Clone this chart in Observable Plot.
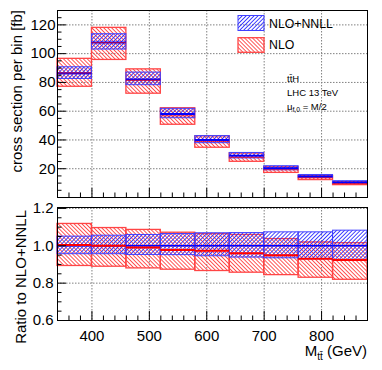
<!DOCTYPE html>
<html><head><meta charset="utf-8">
<script src="https://cdn.jsdelivr.net/npm/d3@7"></script>
<script src="https://cdn.jsdelivr.net/npm/@observablehq/plot@0.6"></script>
<style>
html,body{margin:0;padding:0;background:#fff;}
#chart{position:relative;width:382px;height:370px;overflow:hidden;}
#chart svg{display:block;}
</style></head><body><div id="chart"></div>
<script>
// ---- data ----
const binLow  = [340, 400, 460, 520, 580, 640, 700, 760, 820];
const binHigh = [400, 460, 520, 580, 640, 700, 760, 820, 880];
// NLO+NNLL central cross section per bin [fb]
const nnllCentral = [86.3, 107.7, 82.1, 58.0, 40.0, 29.0, 20.3, 14.6, 10.5];
// NLO+NNLL scale band, relative to NLO+NNLL central
const nnllRatioLo = [0.955, 0.955, 0.951, 0.950, 0.944, 0.937, 0.933, 0.928, 0.923];
const nnllRatioHi = [1.049, 1.054, 1.058, 1.063, 1.067, 1.068, 1.072, 1.072, 1.081];
// NLO central and band, relative to NLO+NNLL central
const nloRatioCentral = [1.004, 1.000, 0.991, 0.978, 0.973, 0.960, 0.950, 0.930, 0.924];
const nloRatioLo = [0.892, 0.888, 0.879, 0.872, 0.865, 0.856, 0.843, 0.829, 0.818];
const nloRatioHi = [1.117, 1.095, 1.085, 1.070, 1.063, 1.058, 1.036, 1.018, 1.014];
// ticks
const xMajor = [400, 500, 600, 700, 800];
const xMinor = d3.range(340, 881, 20).filter(v => v % 100 !== 0);
const topYMajor = [20, 40, 60, 80, 100, 120];
const topYMinor = d3.range(5, 131, 5).filter(v => v % 20 !== 0);
const ratioYMajor = [0.6, 0.8, 1.0, 1.2];
const ratioYMinor = [0.65, 0.7, 0.75, 0.85, 0.9, 0.95, 1.05, 1.1, 1.15];
const seriesNames = ["NLO+NNLL", "NLO"];

const bins = binLow.map((lo, i) => {
  const c = nnllCentral[i];
  return {
    lo, hi: binHigh[i], c,
    nnllLo: c * nnllRatioLo[i], nnllHi: c * nnllRatioHi[i],
    nlo: c * nloRatioCentral[i], nloLo: c * nloRatioLo[i], nloHi: c * nloRatioHi[i],
    rC: c / c, rLo: nnllRatioLo[i], rHi: nnllRatioHi[i],
    rNlo: nloRatioCentral[i], rNloLo: nloRatioLo[i], rNloHi: nloRatioHi[i]
  };
});

const font = "'Liberation Sans', Arial, Helvetica, sans-serif";
const BLUE = "#0000ff", RED = "#ff0000";
const W = 382, ML = 57, MR = 15;
const FW = W - ML - MR;
const gridOpts = {stroke: "#808080", strokeOpacity: 1, strokeDasharray: "1.5,1.5", strokeWidth: 1};

function addDefs(svg, s) {
  const defs = d3.select(svg).insert("defs", ":first-child");
  const mk = (id, rot, col) => {
    defs.append("pattern").attr("id", id).attr("patternUnits", "userSpaceOnUse")
      .attr("width", 2.8).attr("height", 2.8).attr("patternTransform", `rotate(${rot})`)
      .append("rect").attr("x", 0).attr("y", 0).attr("width", 0.85).attr("height", 2.8).attr("fill", col);
  };
  mk("hb" + s, 45, "#2525ff");
  mk("hr" + s, -45, "#ff3a3a");
}

// ---- top panel ----
const TOPH = 202, TMT = 10, TMB = 5, TFH = TOPH - TMT - TMB;
const topSvg = Plot.plot({
  width: W, height: TOPH, marginTop: TMT, marginBottom: TMB, marginLeft: ML, marginRight: MR,
  style: {fontFamily: font, fontSize: "15px", color: "#000", background: "#fff", overflow: "visible"},
  x: {domain: [340, 880], axis: null},
  y: {domain: [0, 130], axis: null},
  marks: [
    Plot.gridX(xMajor, gridOpts),
    Plot.gridY(topYMajor, gridOpts),
    Plot.rect(bins, {x1: "lo", x2: "hi", y1: "nloLo", y2: "nloHi", fill: "url(#hrA)", stroke: "#ff4545", strokeWidth: 1.3}),
    Plot.rect(bins, {x1: "lo", x2: "hi", y1: "nnllLo", y2: "nnllHi", fill: "url(#hbA)", stroke: "#4040ff", strokeWidth: 1}),
    Plot.ruleY(bins, {x1: "lo", x2: "hi", y: "c", stroke: BLUE, strokeWidth: 2}),
    Plot.ruleY(bins, {x1: "lo", x2: "hi", y: "nlo", stroke: RED, strokeWidth: 1.2, strokeOpacity: 0.6}),
    Plot.tickX(xMajor, {x: d => d, insetTop: TFH - 9, stroke: "#000"}),
    Plot.tickX(xMinor, {x: d => d, insetTop: TFH - 4.5, stroke: "#000"}),
    Plot.tickY(topYMajor, {y: d => d, insetRight: FW - 9, stroke: "#000"}),
    Plot.tickY(topYMinor, {y: d => d, insetRight: FW - 4.5, stroke: "#000"}),
    Plot.axisY(topYMajor, {tickSize: 0, tickPadding: 2, label: null, fontSize: 15}),
    Plot.frame({stroke: "#000", strokeWidth: 1})
  ]
});
addDefs(topSvg, "A");
{
  const g = d3.select(topSvg).append("g").attr("font-family", font).attr("fill", "#000")
    .attr("text-anchor", "start");
  g.append("text").attr("transform", `translate(22,${TMT}) rotate(-90)`).attr("text-anchor", "end")
    .attr("font-size", 15).text("cross section per bin [fb]");
  // legend
  g.append("rect").attr("x", 238).attr("y", 15.5).attr("width", 26).attr("height", 15)
    .attr("fill", "url(#hbA)").attr("stroke", "#4040ff").attr("stroke-width", 1);
  g.append("text").attr("x", 269).attr("y", 27.7).attr("font-size", 12.3).text(seriesNames[0]);
  g.append("rect").attr("x", 238).attr("y", 37.7).attr("width", 26).attr("height", 14.6)
    .attr("fill", "url(#hrA)").attr("stroke", "#ff4545").attr("stroke-width", 1.3);
  g.append("text").attr("x", 269).attr("y", 48.8).attr("font-size", 12.3).text(seriesNames[1]);
  // annotation
  g.append("text").attr("x", 287).attr("y", 81.5).attr("font-size", 9.5).text("tt\u0304H");
  g.append("text").attr("x", 287).attr("y", 95.5).attr("font-size", 9.5).text("LHC 13 TeV");
  const mu = g.append("text").attr("x", 287).attr("y", 109.5).attr("font-size", 9.5);
  mu.append("tspan").text("\u03bc");
  mu.append("tspan").attr("font-size", 6.8).attr("dy", 2.5).text("f,0");
  mu.append("tspan").attr("dy", -2.5).text(" = M/2");
}

// ---- ratio panel ----
const BH = 168, BMT = 5, BMB = 50, BFH = BH - BMT - BMB;
const bottomSvg = Plot.plot({
  width: W, height: BH, marginTop: BMT, marginBottom: BMB, marginLeft: ML, marginRight: MR,
  style: {fontFamily: font, fontSize: "15px", color: "#000", background: "#fff", overflow: "visible"},
  x: {domain: [340, 880], axis: null},
  y: {domain: [0.6, 1.205], axis: null},
  marks: [
    Plot.gridX(xMajor, gridOpts),
    Plot.gridY(ratioYMajor, gridOpts),
    Plot.rect(bins, {x1: "lo", x2: "hi", y1: "rNloLo", y2: "rNloHi", fill: "url(#hrB)", stroke: "#ff4545", strokeWidth: 1.3}),
    Plot.rect(bins, {x1: "lo", x2: "hi", y1: "rLo", y2: "rHi", fill: "url(#hbB)", stroke: "#4040ff", strokeWidth: 1}),
    Plot.ruleY(bins, {x1: "lo", x2: "hi", y: "rC", stroke: BLUE, strokeWidth: 1.5}),
    Plot.ruleY(bins, {x1: "lo", x2: "hi", y: "rNlo", stroke: RED, strokeWidth: 2}),
    Plot.tickX(xMajor, {x: d => d, insetTop: BFH - 9, stroke: "#000"}),
    Plot.tickX(xMinor, {x: d => d, insetTop: BFH - 4.5, stroke: "#000"}),
    Plot.tickY(ratioYMajor, {y: d => d, insetRight: FW - 9, stroke: "#000"}),
    Plot.tickY(ratioYMinor, {y: d => d, insetRight: FW - 4.5, stroke: "#000"}),
    Plot.axisY(ratioYMajor, {tickSize: 0, tickPadding: 4, label: null, fontSize: 15, tickFormat: d3.format(".1f")}),
    Plot.axisX(xMajor, {tickSize: 0, tickPadding: 10, label: null, fontSize: 15, tickFormat: d => String(d)}),
    Plot.frame({stroke: "#000", strokeWidth: 1})
  ]
});
addDefs(bottomSvg, "B");
{
  const g = d3.select(bottomSvg).append("g").attr("font-family", font).attr("fill", "#000").attr("font-size", 15);
  g.append("text").attr("transform", `translate(25.5,${BMT + 3}) rotate(-90)`).attr("text-anchor", "end")
    .text("Ratio to NLO+NNLL");
  const t = g.append("text").attr("x", W - MR).attr("y", 154).attr("text-anchor", "end");
  t.append("tspan").text("M");
  t.append("tspan").attr("font-size", 10).attr("dy", 4).text("tt\u0304");
  t.append("tspan").attr("dy", -4).text(" (GeV)");
}

document.getElementById("chart").append(topSvg, bottomSvg);
</script></body></html>
